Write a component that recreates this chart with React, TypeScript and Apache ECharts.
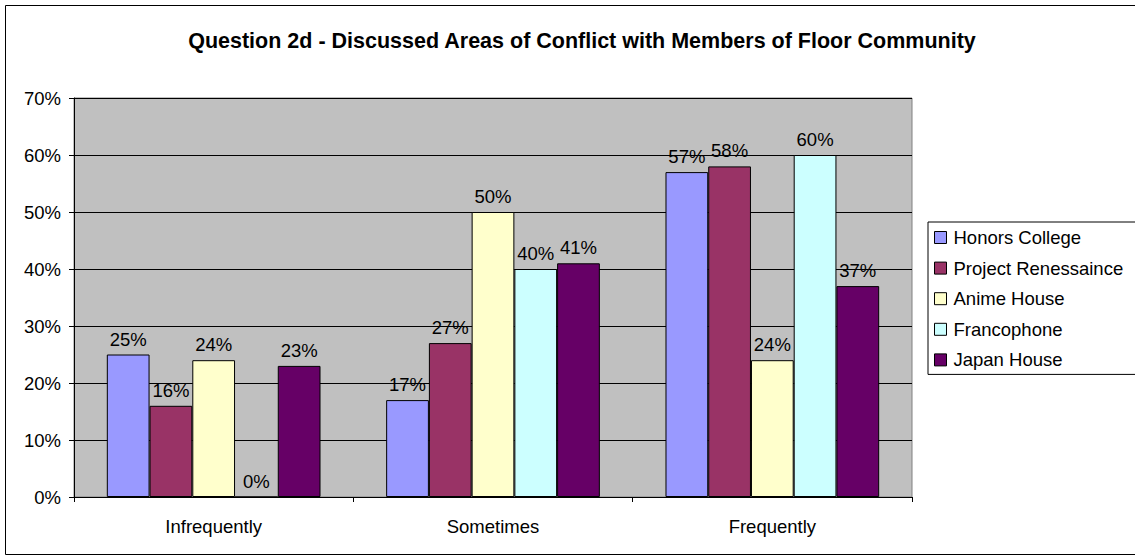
import React, { useEffect, useRef } from "react";
import * as echarts from "echarts";

const categories = ["Infrequently", "Sometimes", "Frequently"];
const seriesNames = ["Honors College", "Project Renessaince", "Anime House", "Francophone", "Japan House"];
const honors = [25, 17, 57];
const project = [16, 27, 58];
const anime = [24, 50, 24];
const franco = [0, 40, 60];
const japan = [23, 41, 37];
const colors = ["#9999FF", "#993366", "#FFFFCC", "#CCFFFF", "#660066"];
const title = "Question 2d - Discussed Areas of Conflict with Members of Floor Community";

export default function App() {
  const ref = useRef<HTMLDivElement>(null);
  useEffect(() => {
    document.body.style.margin = "0";
    const chart = echarts.init(ref.current!, null, { renderer: "svg" });
    const font = "'Liberation Sans', Arial, sans-serif";
    const data = [honors, project, anime, franco, japan];
    chart.setOption({
      animation: false,
      backgroundColor: "#ffffff",
      textStyle: { fontFamily: font },
      title: {
        text: title,
        left: 577,
        textAlign: "center",
        top: 25,
        textStyle: { fontSize: 21.5, fontWeight: "bold", color: "#000", fontFamily: font },
      },
      graphic: [
        {
          type: "rect",
          shape: { x: 5.5, y: 5.5, width: 1140, height: 549 },
          style: { fill: "none", stroke: "#000", lineWidth: 1 },
          silent: true,
          z: 0,
        },
      ],
      legend: {
        orient: "vertical",
        left: 928,
        top: 222,
        itemWidth: 12,
        itemHeight: 12,
        itemGap: 11.6,
        padding: [6, 30, 5, 6],
        borderColor: "#000",
        borderWidth: 1,
        backgroundColor: "#fff",
        icon: "rect",
        data: seriesNames,
        textStyle: { fontSize: 18.5, lineHeight: 18, color: "#000", fontFamily: font, padding: [0, 0, 0, 2] },
        itemStyle: { borderColor: "#000", borderWidth: 1 },
      },
      grid: {
        left: 74,
        right: 223,
        top: 98,
        bottom: 59,
        show: true,
        backgroundColor: "#C0C0C0",
        borderColor: "#808080",
        borderWidth: 1,
      },
      xAxis: {
        type: "category",
        data: categories,
        axisLine: { lineStyle: { color: "#000", width: 1 } },
        axisTick: { show: true, alignWithLabel: false, length: 5, lineStyle: { color: "#000" } },
        axisLabel: { fontSize: 18.5, color: "#000", margin: 20, fontFamily: font },
      },
      yAxis: {
        type: "value",
        min: 0,
        max: 70,
        interval: 10,
        axisLine: { show: true, lineStyle: { color: "#000", width: 1 } },
        axisTick: { show: true, length: 5, lineStyle: { color: "#000" } },
        axisLabel: { fontSize: 18.5, color: "#000", margin: 13, formatter: "{value}%", fontFamily: font },
        splitLine: { show: true, lineStyle: { color: "#000", width: 1 } },
      },
      series: seriesNames.map((name, i) => ({
        name,
        type: "bar",
        data: data[i],
        barGap: "0%",
        barCategoryGap: "23.5%",
        itemStyle: { color: colors[i], borderColor: "#000", borderWidth: 1 },
        label: {
          show: true,
          position: "top",
          distance: 6,
          formatter: "{c}%",
          fontSize: 18.5,
          color: "#000",
          fontFamily: font,
        },
      })),
    });
    return () => chart.dispose();
  }, []);
  return (
    <div
      ref={ref}
      style={{ position: "fixed", left: 0, top: 0, width: 1135, height: 556 }}
    />
  );
}
